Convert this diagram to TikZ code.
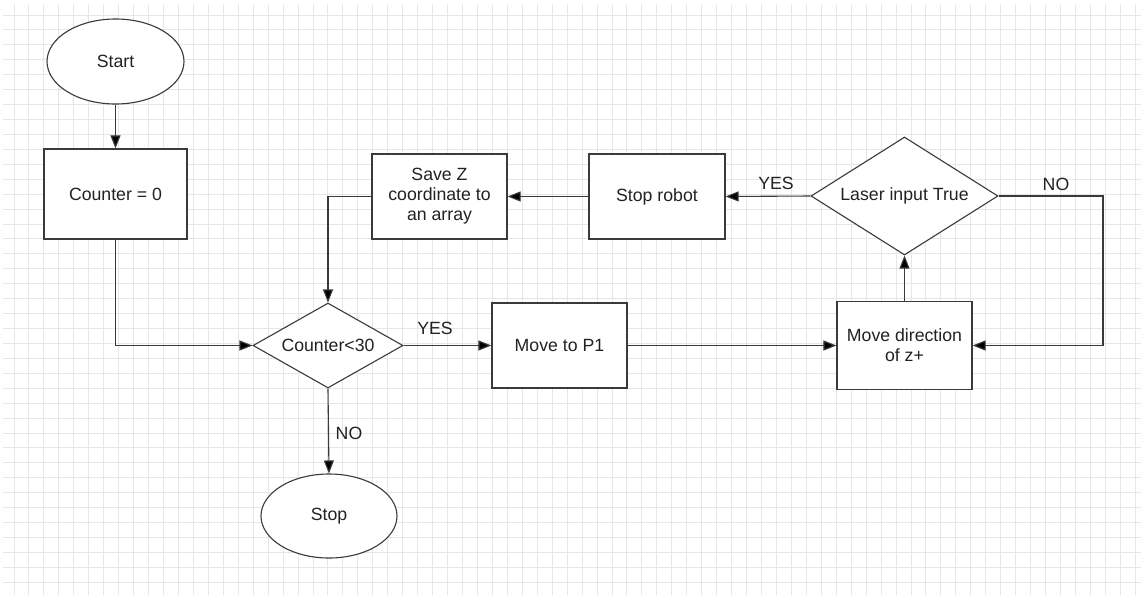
\documentclass[tikz,border=0pt]{standalone}
\usepackage{fontspec}
\setmainfont{Liberation Sans}
\usetikzlibrary{shapes.geometric,arrows.meta}
\definecolor{gridc}{HTML}{E6E6E6}
\definecolor{edgec}{HTML}{3A3A3A}
\definecolor{txtc}{HTML}{222222}
\begin{document}
\begin{tikzpicture}[x=1pt,y=-1pt,
  every node/.style={font=\fontsize{17.7}{20}\selectfont, text=txtc},
  proc/.style={draw=edgec, line width=1.2pt, fill=white, rectangle, inner sep=0pt, align=center},
  term/.style={draw=edgec, line width=1.1pt, fill=white, ellipse, inner sep=0pt},
  dec/.style={draw=edgec, line width=1.1pt, fill=white, diamond, inner sep=0pt},
  arr/.style={draw=edgec, line width=1.1pt, -{Triangle[length=13pt,width=10pt,fill=black]}},
  lbl/.style={inner sep=0pt}]
\useasboundingbox (0,0) rectangle (1141,595);
\fill[white] (0,0) rectangle (1141,595);
% grid
\foreach \k in {0,...,75} {
  \draw[gridc, line width=1pt] ({14+14.95*\k},4) -- ({14+14.95*\k},595);
}
\foreach \k in {0,...,38} {
  \draw[gridc, line width=1pt] (3,{15+14.93*\k}) -- (1141,{15+14.93*\k});
}
% nodes
\node[term, minimum width=137pt, minimum height=85pt] (start) at (115.5,61.5) {Start};
\node[proc, minimum width=143pt, minimum height=90pt] (c0) at (115.5,194) {Counter = 0};
\node[dec, minimum width=150pt, minimum height=85pt, shape aspect=1.76, label=center:{Counter<30}] (d1) at (328,345.5) {};
\node[proc, minimum width=135pt, minimum height=85pt] (p1) at (559.5,345.5) {Move to P1};
\node[proc, minimum width=135pt, minimum height=88pt] (mz) at (904.5,345.5) {Move direction\\of z+};
\node[dec, minimum width=187pt, minimum height=118pt, shape aspect=1.58, label=center:{Laser input True}] (laser) at (904.5,196) {};
\node[proc, minimum width=136pt, minimum height=85pt] (sr) at (657,196.5) {Stop robot};
\node[proc, minimum width=135pt, minimum height=85pt] (save) at (439.5,196.5) {Save Z\\coordinate to\\an array};
\node[term, minimum width=136pt, minimum height=84pt] (stop) at (329,516) {Stop};
\coordinate (nr) at (1103,196);
% connectors
\draw[arr] (start.south) -- (c0.north);
\draw[arr] (c0.south) |- (d1.west);
\draw[arr] (d1.east) -- (p1.west);
\draw[arr] (p1.east) -- (mz.west);
\draw[arr] (mz.north) -- (laser.south);
\draw[arr] (laser.east) -- (nr) |- (mz.east);
\draw[arr] (laser.west) -- (sr.east);
\draw[arr] (sr.west) -- (save.east);
\draw[arr] (save.west) -| (d1.north);
\draw[arr] (d1.south) -- (stop.north);
% labels
\node[lbl] (yes1) at (435,328) {YES};
\node[lbl] (yes2) at (776,183) {YES};
\node[lbl] (no1) at (1056,184) {NO};
\node[lbl] (no2) at (349,433) {NO};
\end{tikzpicture}
\end{document}
